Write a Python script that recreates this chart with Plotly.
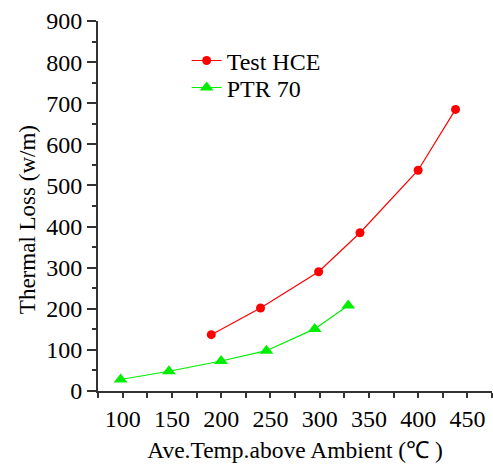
import plotly.graph_objects as go

hce_x = [190, 240, 299, 341, 400, 438]
hce_y = [137, 202, 290, 385, 537, 685]
ptr_x = [98, 147, 200, 246, 295, 329]
ptr_y = [28, 48, 73, 98, 151, 208]

FONT = "Liberation Serif"
FONT2 = "Times New Roman, Liberation Serif, serif"

fig = go.Figure()
fig.add_trace(go.Scatter(x=hce_x, y=hce_y, name="Test HCE", mode="lines+markers",
                         line=dict(color="#ff0000", width=1.2), legend="legend",
                         marker=dict(symbol="circle", size=9, color="#ff0000")))
fig.add_trace(go.Scatter(x=ptr_x, y=ptr_y, name="PTR 70", mode="lines+markers",
                         line=dict(color="#00ee00", width=1.2), legend="legend2",
                         marker=dict(symbol="triangle-up", size=12, color="#00ee00")))

axis_common = dict(showgrid=False, zeroline=False, showline=True, linecolor="#333333",
                   linewidth=2, ticks="outside", tickcolor="#333333", tickwidth=1.5,
                   tickfont=dict(family=FONT2, size=24, color="#000"))

leg_common = dict(xanchor="left", yanchor="top", font=dict(family=FONT2, size=24, color="#000"),
                  bgcolor="rgba(0,0,0,0)")

fig.update_layout(
    width=493, height=468,
    margin=dict(l=98, r=1, t=21, b=77),
    plot_bgcolor="white", paper_bgcolor="white",
    font=dict(family=FONT, color="#000"),
    showlegend=True,
    legend=dict(x=0.225, y=0.953, **leg_common),
    legend2=dict(x=0.225, y=0.880, **leg_common),
    xaxis=dict(range=[75, 475], dtick=50, tick0=0, ticklen=5,
               minor=dict(ticks="outside", dtick=25, tick0=0, ticklen=5, tickcolor="#333333", showgrid=False),
               title=dict(text="Ave.Temp.above Ambient (℃ )", font=dict(family=FONT, size=23.5, color="#000"), standoff=11),
               **axis_common),
    yaxis=dict(range=[0, 900], dtick=100, tick0=0, ticklen=9,
               minor=dict(ticks="outside", dtick=50, tick0=0, ticklen=4, tickcolor="#333333", showgrid=False),
               **axis_common),
    annotations=[dict(text="Thermal Loss (w/m)", xref="paper", yref="paper",
                      x=-0.18, y=0.462, xanchor="center", yanchor="middle",
                      textangle=-90, showarrow=False,
                      font=dict(family=FONT, size=23, color="#000"))],
)

fig.write_html("out.html")
